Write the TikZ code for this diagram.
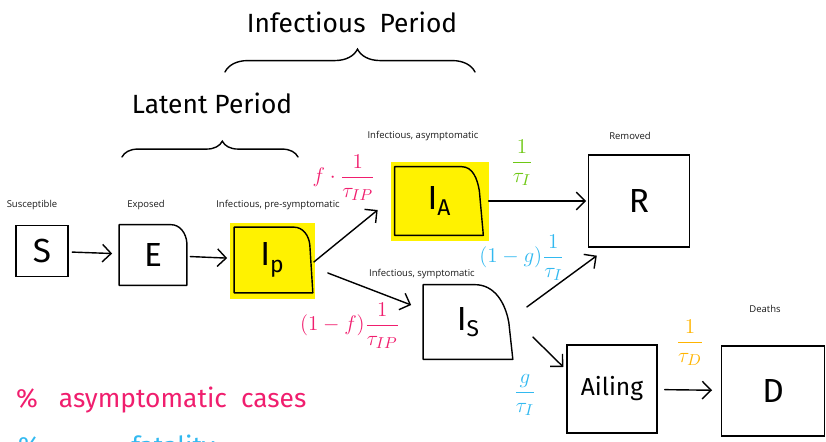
\documentclass[tikz,border=0pt]{standalone}
\usepackage{fontspec}
\setmainfont{Open Sans}
\newfontfamily\handfont{Fira Sans}
\usetikzlibrary{arrows.meta,decorations.pathreplacing,backgrounds}
\definecolor{hlyellow}{RGB}{255,242,0}
\definecolor{rosered}{RGB}{240,30,110}
\definecolor{leafgreen}{RGB}{110,200,20}
\definecolor{skyblue}{RGB}{50,185,240}
\definecolor{amber}{RGB}{255,180,0}
\tikzset{
  caption/.style={font=\fontsize{5.4}{6}\selectfont, text=black!90},
  hand/.style={font=\handfont\fontsize{15}{17}\selectfont},
  stage/.style={inner sep=0pt, font=\handfont\fontsize{19}{21}\selectfont},
  outline/.style={thick, line join=round},
  flow/.style={thick, line cap=round, -{Straight Barb[length=5pt,width=10pt]}},
  rate/.style={font=\fontsize{12.5}{14}\selectfont, inner sep=0pt},
  bracket/.style={thick, line cap=round, decorate}
}
\begin{document}
\begin{tikzpicture}[x=0.02cm,y=-0.02cm]
  \useasboundingbox (0,0) rectangle (826,442);
  \clip (0,0) rectangle (826,442);
  % Periods
  \node[hand] (infper) at (352,22) {Infectious\ \ Period};
  \draw[bracket, decoration={brace, amplitude=13pt, aspect=0.53}] (225,72) -- (475,72);
  \node[hand] (latper) at (212,103) {Latent Period};
  \draw[bracket, decoration={brace, amplitude=9pt, aspect=0.57}] (122,157) -- (298,157);
  % Compartments
  \node[stage, draw, thick, minimum width=1.04cm, minimum height=1.02cm] (S) at (42,251) {S};
  \node[stage, minimum width=1.34cm, minimum height=1.2cm] (E) at (153,255) {E};
  \node[stage, minimum width=1.5cm, minimum height=1.3cm] (Ip) at (272,260) {I\raisebox{-0.35ex}{\fontsize{13}{14}\selectfont p}};
  \node[stage, minimum width=1.76cm, minimum height=1.36cm] (IA) at (439,201) {I\raisebox{-0.35ex}{\fontsize{13}{14}\selectfont A}};
  \node[stage, draw, thick, minimum width=2.02cm, minimum height=1.84cm] (R) at (639,201) {R};
  \node[stage, minimum width=1.78cm, minimum height=1.48cm] (IS) at (468,322) {I\raisebox{-0.35ex}{\fontsize{13}{14}\selectfont S}};
  \node[stage, draw, thick, minimum width=1.8cm, minimum height=1.76cm, font=\handfont\fontsize{14}{16}\selectfont] (Ail) at (612,389) {Ailing};
  \node[stage, draw, thick, minimum width=2.06cm, minimum height=1.8cm] (D) at (773,391) {D};
  % Highlighted boxes
  \begin{scope}[on background layer]
    \fill[hlyellow] ([shift={(-4,-4)}]Ip.north west) rectangle ([shift={(5,6)}]Ip.south east);
    \fill[hlyellow] ([shift={(-4,-5)}]IA.north west) rectangle ([shift={(6,6)}]IA.south east);
  \end{scope}
  % Box outlines with rounded corner
  \draw[outline] (E.south west) -- (E.north west) -- ([shift={(-16,0)}]E.north east) to[out=0,in=95] ([shift={(0,18)}]E.north east) -- (E.south east) -- cycle;
  \draw[outline] (Ip.south west) -- (Ip.north west) -- ([shift={(-16,0)}]Ip.north east) to[out=0,in=95] ([shift={(0,18)}]Ip.north east) -- ([shift={(3,0)}]Ip.south east) -- cycle;
  \draw[outline] (IA.south west) -- (IA.north west) -- ([shift={(-22,0)}]IA.north east) to[out=0,in=100] ([shift={(-4,24)}]IA.north east) -- (IA.south east) -- cycle;
  \draw[outline] (IS.south west) -- (IS.north west) -- ([shift={(-38,0)}]IS.north east) to[out=0,in=100] ([shift={(-4,38)}]IS.north east) -- (IS.south east) -- cycle;
  % Captions
  \node[caption] (capS) at (32,205) {Susceptible};
  \node[caption] (capE) at (146,205) {Exposed};
  \node[caption] (capIp) at (278,205) {Infectious, pre-symptomatic};
  \node[caption] (capIA) at (423,136) {Infectious, asymptomatic};
  \node[caption] (capR) at (630,136) {Removed};
  \node[caption] (capIS) at (422,274) {Infectious, symptomatic};
  \node[caption] (capD) at (765,309) {Deaths};
  % Flows
  \draw[flow, shorten <=2pt, shorten >=4pt] (S) -- (E);
  \draw[flow, shorten <=2pt, shorten >=4pt] (E) -- (Ip);
  \draw[flow] ([shift={(4,2)}]Ip.east) -- ([shift={(-17,9)}]IA.west);
  \draw[flow] ([shift={(18,13)}]Ip.east) -- ([shift={(-12,-17)}]IS.west);
  \draw[flow, shorten <=3pt, shorten >=1pt] (IA) -- (R);
  \draw[flow] ([shift={(14,-15)}]IS.east) -- ([shift={(9,8)}]R.south west);
  \draw[flow] ([shift={(20,15)}]IS.east) -- ([shift={(-3,-22)}]Ail.west);
  \draw[flow, shorten <=4pt, shorten >=5pt] (Ail) -- (D);
  % Rates
  \node[rate, text=rosered] (rA) at (344,178) {$f\cdot\displaystyle\frac{1}{\tau_{IP}}$};
  \node[rate, text=rosered] (rS) at (350,326) {$(1-f)\displaystyle\frac{1}{\tau_{IP}}$};
  \node[rate, text=leafgreen] (rAR) at (522,163) {$\displaystyle\frac{1}{\tau_{I}}$};
  \node[rate, text=skyblue] (rSR) at (522,258) {$(1-g)\displaystyle\frac{1}{\tau_{I}}$};
  \node[rate, text=skyblue] (rSA) at (525,395) {$\displaystyle\frac{g}{\tau_{I}}$};
  \node[rate, text=amber] (rAD) at (690,343) {$\displaystyle\frac{1}{\tau_{D}}$};
  % Notes
  \node[hand, text=rosered, anchor=base west] (noteA) at (10,408) {\%\ \ \ asymptomatic\ \ cases};
  \node[hand, text=skyblue, anchor=base west] (noteF) at (12,456) {\%\hspace{52pt}fatality};
\end{tikzpicture}
\end{document}
